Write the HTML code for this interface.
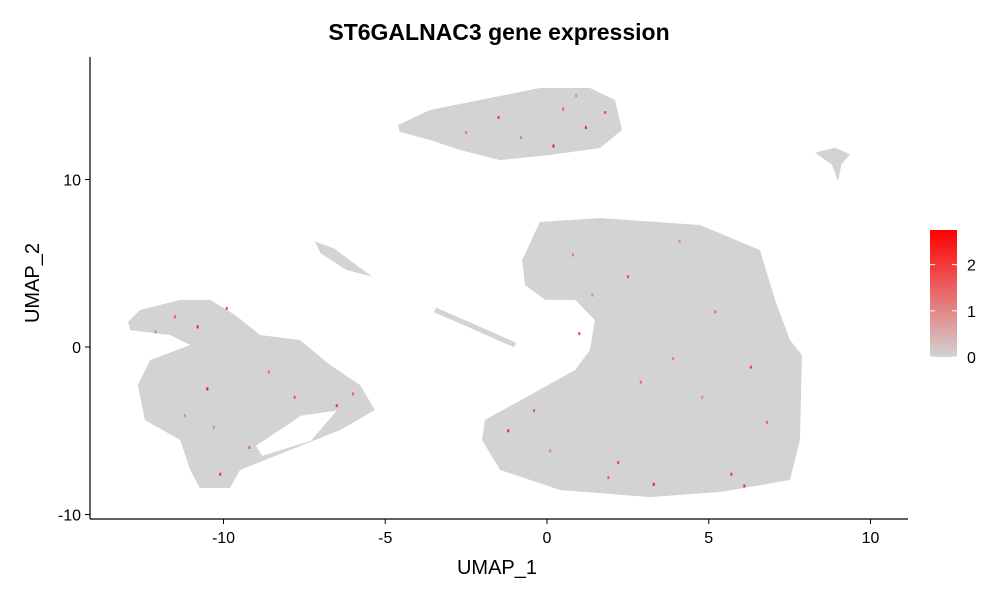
<!DOCTYPE html>
<html><head><meta charset="utf-8"><style>
html,body{margin:0;padding:0;background:#fff;}
svg{display:block;font-family:"Liberation Sans",sans-serif;}
</style></head><body>
<svg id="chart" width="1000" height="600">
<text x="499" y="40" text-anchor="middle" font-size="23" font-weight="bold">ST6GALNAC3 gene expression</text>
<g id="clusters"></g>
<g id="points"></g>
<line x1="90" y1="519" x2="908" y2="519" stroke="#000" stroke-width="1.2"/>
<line x1="90" y1="57" x2="90" y2="519" stroke="#000" stroke-width="1.2"/>
<g id="xticks"></g>
<g id="yticks"></g>
<text x="497" y="574" text-anchor="middle" font-size="20">UMAP_1</text>
<text transform="translate(39,283) rotate(-90)" text-anchor="middle" font-size="20">UMAP_2</text>
<defs><linearGradient id="cg" x1="0" y1="1" x2="0" y2="0">
<stop offset="0" stop-color="#d3d3d3"/><stop offset="1" stop-color="#ff0000"/></linearGradient></defs>
<rect x="930" y="230" width="27" height="127" fill="url(#cg)"/>
<g id="legend"></g>
</svg>
<script>
const xTicks=[-10,-5,0,5,10];
const yTicks=[-10,0,10];
const legendTicks=[0,1,2];
const legendMax=2.75;
const bigCluster=[[-0.22,7.46],[1.64,7.7],[4.73,7.28],[6.58,5.79],[7.05,2.81],[7.51,0.42],[7.88,-0.48],[7.82,-5.55],[7.51,-7.94],[5.35,-8.66],[3.18,-8.96],[0.4,-8.54],[-1.45,-7.34],[-2.01,-5.55],[-1.92,-4.36],[-0.53,-2.87],[0.87,-1.37],[1.33,-0.18],[1.48,1.61],[0.87,2.81],[-0.06,2.81],[-0.68,3.7],[-0.77,5.19]];
const topCluster=[[-4.61,13.25],[-3.62,14.15],[-2.07,14.75],[-0.22,15.46],[1.33,15.46],[2.1,14.75],[2.32,12.96],[1.64,11.88],[0.09,11.46],[-1.45,11.16],[-2.69,11.76],[-3.62,12.36],[-4.55,12.84]];
const leftCluster=[[-12.95,1.49],[-12.58,2.21],[-11.34,2.81],[-10.41,2.81],[-9.64,1.91],[-8.87,0.72],[-7.64,0.42],[-6.71,-1.07],[-5.78,-2.27],[-5.32,-3.76],[-6.4,-4.96],[-7.94,-6.15],[-9.49,-7.34],[-9.8,-8.42],[-10.73,-8.42],[-11.03,-7.34],[-11.34,-5.55],[-12.43,-4.36],[-12.65,-2.27],[-12.27,-0.78],[-11.03,0.12],[-11.65,0.72],[-12.88,1.01]];
const leftHole=[[-9.0,-5.9],[-7.6,-4.1],[-6.5,-3.8],[-7.3,-5.6],[-8.8,-6.5]];
const smallCluster=[[-7.17,6.3],[-6.6,5.9],[-5.9,4.9],[-5.4,4.2],[-6.2,4.6],[-7.0,5.6]];
const rightSmall=[[8.28,11.6],[8.9,11.9],[9.37,11.5],[9.1,10.9],[9.0,9.9],[8.8,10.9]];
const streak=[[-3.46,2.21],[-2.38,1.31],[-0.99,0.12]];
const expX=[0.5,1.2,-0.8,1.8,0.2,-2.5,0.9,-1.5,-11.5,-10.8,-12.1,-9.9,-10.5,-8.6,-7.8,-6.5,-11.2,-9.2,-10.1,0.8,2.5,4.1,5.2,6.3,-1.2,0.1,1.9,3.3,4.8,6.8,2.2,3.9,5.7,1.4,-0.4,2.9,6.1,-6.0,-10.3,1.0];
const expY=[14.2,13.1,12.5,14.0,12.0,12.8,15.0,13.7,1.8,1.2,0.9,2.3,-2.5,-1.5,-3.0,-3.5,-4.1,-6.0,-7.6,5.5,4.2,6.3,2.1,-1.2,-5.0,-6.2,-7.8,-8.2,-3.0,-4.5,-6.9,-0.7,-7.6,3.1,-3.8,-2.1,-8.3,-2.8,-4.8,0.8];
const expV=[1.5,2.2,1.0,1.8,2.5,1.2,1.0,2.0,1.6,2.4,1.1,1.9,2.6,1.3,1.7,2.1,1.0,1.5,2.2,1.2,1.8,1.0,1.4,2.0,2.3,1.1,1.6,2.5,1.0,1.3,1.9,1.2,2.1,1.0,1.7,1.4,2.2,1.5,1.0,1.8];
const NS='http://www.w3.org/2000/svg';
const sx=v=>547+v*32.35, sy=v=>347-v*16.75;
function el(t,a,p){const e=document.createElementNS(NS,t);for(const k in a)e.setAttribute(k,a[k]);p.appendChild(e);return e;}
const cg=document.getElementById('clusters');
function poly(pts,fill,name){const e=el('polygon',{points:pts.map(p=>sx(p[0])+','+sy(p[1])).join(' '),fill:fill},cg);

}
poly(bigCluster,'#d3d3d3','cluster-main');
poly(topCluster,'#d3d3d3','cluster-top');
poly(leftCluster,'#d3d3d3','cluster-left');
poly(leftHole,'#ffffff','cluster-left-gap');
poly(smallCluster,'#d3d3d3','cluster-small');
poly(rightSmall,'#d3d3d3','cluster-right-small');
const s=el('polyline',{points:streak.map(p=>sx(p[0])+','+sy(p[1])).join(' '),stroke:'#d3d3d3','stroke-width':5,fill:'none'},cg);


const pg=document.getElementById('points');
function col(v){const t=Math.min(v/legendMax,1);const g=Math.round(211*(1-t));const r=Math.round(211+44*t);return `rgb(${r},${g},${g})`;}
expX.forEach((x,i)=>{const r=el('rect',{x:sx(x)-1,y:sy(expY[i])-1.5,width:2,height:3,fill:col(expV[i])},pg);

});
const xg=document.getElementById('xticks');
xTicks.forEach(v=>{el('line',{x1:sx(v),x2:sx(v),y1:519,y2:524,stroke:'#000'},xg);
const t=el('text',{x:sx(v),y:543,'text-anchor':'middle','font-size':16},xg);t.textContent=v;

});
const yg=document.getElementById('yticks');
yTicks.forEach(v=>{el('line',{x1:85,x2:90,y1:sy(v),y2:sy(v),stroke:'#000'},yg);
const t=el('text',{x:81,y:sy(v)+6,'text-anchor':'end','font-size':16},yg);t.textContent=v;

});
const lg=document.getElementById('legend');
legendTicks.forEach(v=>{const y=357-v/legendMax*127;
el('line',{x1:930,x2:935,y1:y,y2:y,stroke:'#fff'},lg);el('line',{x1:952,x2:957,y1:y,y2:y,stroke:'#fff'},lg);
const t=el('text',{x:967,y:y+6,'font-size':16},lg);t.textContent=v;

});
</script>
</body></html>
